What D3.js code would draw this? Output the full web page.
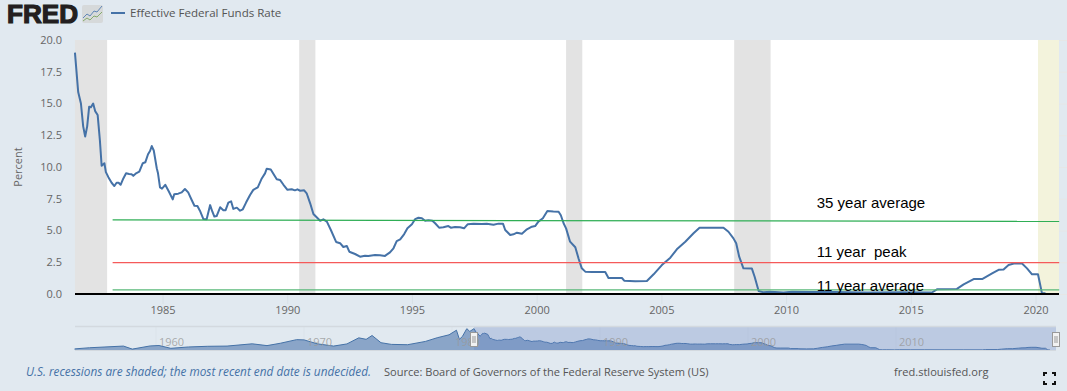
<!DOCTYPE html>
<html>
<head>
<meta charset="utf-8">
<script src="https://d3js.org/d3.v7.min.js"></script>
<style>
    html, body { margin: 0; padding: 0; background: #e1e9f0; overflow: hidden; }
    svg { display: block; }
    text { font-family: "Open Sans", sans-serif; }
    .axisLabel { font-size: 11px; fill: #666; }
    .note { font-family: "Liberation Sans", sans-serif; font-size: 15px; fill: #000; white-space: pre; }
</style>
</head>
<body>
<svg id="chart" width="1067" height="391"></svg>
<script>
    // effective federal funds rate
    var years = [1981.49,1981.62,1981.73,1981.82,1981.90,1981.98,1982.06,1982.13,1982.22,1982.30,1982.40,1982.49,1982.56,1982.67,1982.73,1982.83,1982.96,
        1983.07,1983.16,1983.24,1983.32,1983.43,1983.54,1983.66,1983.76,1983.83,1983.94,1984.07,1984.21,1984.31,1984.42,1984.50,1984.57,1984.65,1984.77,1984.82,1984.90,1984.98,
        1985.11,1985.26,1985.41,1985.47,1985.63,1985.77,1985.90,1986.03,1986.17,1986.28,1986.40,1986.50,1986.64,1986.77,1986.91,1987.00,1987.08,1987.17,1987.31,1987.44,1987.53,1987.64,1987.75,1987.84,1987.98,
        1988.11,1988.22,1988.35,1988.51,1988.64,1988.82,1988.98,1989.11,1989.18,1989.34,1989.58,1989.71,1989.85,1990.01,1990.18,1990.31,1990.41,1990.52,1990.68,1990.78,1990.92,
        1991.05,1991.18,1991.32,1991.45,1991.59,1991.75,1991.96,1992.12,1992.25,1992.39,1992.49,1992.72,1992.92,1993.12,1993.25,1993.52,1993.72,1993.92,
        1994.12,1994.26,1994.39,1994.53,1994.69,1994.82,1995.00,1995.13,1995.26,1995.40,1995.53,1995.66,1995.82,1995.93,1996.09,1996.26,1996.46,1996.56,1996.73,1996.93,
        1997.09,1997.24,1997.47,1997.80,1998.00,1998.27,1998.47,1998.65,1998.74,1998.94,1999.07,1999.21,1999.41,1999.61,1999.81,1999.94,
        2000.07,2000.25,2000.43,2000.67,2000.88,2000.97,2001.08,2001.18,2001.34,2001.55,2001.68,2001.81,2001.95,2002.22,2002.75,2002.88,2003.42,2003.51,2003.95,2004.42,2004.69,
        2005.02,2005.36,2005.62,2005.96,2006.29,2006.53,2006.96,2007.49,2007.69,2007.89,2008.00,2008.12,2008.29,2008.63,2008.74,2008.90,2009.10,2009.37,2009.90,2010.24,2010.97,
        2011.91,2013.25,2014.58,2015.85,2016.05,2016.85,2017.12,2017.52,2017.86,2018.26,2018.52,2018.72,2018.92,2019.13,2019.46,2019.66,2019.86,2020.10,2020.26,2020.40];
    var rates = [19.0,15.9,15.0,13.2,12.4,13.2,14.75,14.7,15.0,14.4,14.1,12.1,10.1,10.3,9.6,9.2,8.76,
        8.5,8.76,8.76,8.6,9.1,9.5,9.45,9.43,9.3,9.5,9.63,10.3,10.37,11.0,11.26,11.65,11.3,9.9,9.5,8.4,8.3,
        8.6,8.05,7.45,7.85,7.9,8.0,8.27,8.0,7.4,6.95,6.93,6.56,5.9,5.88,7.0,6.48,6.1,6.14,6.83,6.6,6.6,7.2,7.3,6.7,6.8,
        6.56,6.67,7.2,7.8,8.2,8.4,9.1,9.5,9.87,9.8,9.03,8.98,8.6,8.2,8.25,8.16,8.24,8.13,8.16,7.93,7.14,
        6.3,6.04,5.77,5.88,5.7,5.04,4.1,4.0,3.7,3.78,3.33,3.15,2.94,3.02,3.0,3.07,3.05,3.0,
        3.28,3.6,4.17,4.3,4.72,5.17,5.49,5.9,6.0,5.96,5.77,5.8,5.77,5.57,5.22,5.25,5.35,5.22,5.28,5.25,
        5.17,5.5,5.54,5.51,5.54,5.46,5.54,5.54,5.04,4.65,4.7,4.83,4.75,5.09,5.3,5.35,
        5.7,5.96,6.54,6.5,6.48,6.2,5.57,5.17,4.12,3.68,2.8,2.02,1.76,1.73,1.73,1.26,1.26,1.05,1.0,1.02,1.55,
        2.28,2.86,3.52,4.12,4.78,5.22,5.22,5.22,4.9,4.38,3.99,2.94,2.02,2.0,1.36,0.24,0.13,0.18,0.11,0.18,0.15,
        0.15,0.12,0.13,0.12,0.37,0.4,0.76,1.18,1.18,1.62,1.9,1.93,2.28,2.4,2.4,2.02,1.55,1.55,0.05,0.05];

    // earlier history, only visible in the navigator strip
    var earlyYears = [1954.5,1955.5,1957.8,1958.4,1959.6,1960.2,1961,1962.2,1963.5,1964.8,1966.5,1967.5,1968.4,1969.5,1970,1970.9,1972,1972.9,1973.7,1974.2,1974.6,1975.2,1975.9,1977,1978.2,1979,1979.8,1980.3,1980.5,1980.7,1981,1981.2];
    var earlyRates = [1.0,2.0,3.5,0.8,3.6,4.0,1.5,2.7,3.3,3.5,5.5,3.9,6.0,9.2,9.0,5.5,3.5,5.4,10.8,9.5,12.9,6.5,5.0,4.7,7.6,10.9,13.5,17.6,9.5,12.0,19.0,16.5];

    var yTicks = [0, 2.5, 5, 7.5, 10, 12.5, 15, 17.5, 20];
    var xTicks = [1985, 1990, 1995, 2000, 2005, 2010, 2015, 2020];
    var navTicks = [1960, 1970, 1980, 1990, 2000, 2010];

    var recessionStart = [1981.49, 1990.48, 2001.18, 2007.92];
    var recessionEnd = [1982.78, 1991.13, 2001.83, 2009.38];
    var undecidedStart = 2020.1, undecidedEnd = 2020.95;

    // hand drawn lines on top of the chart
    var noteLabels = ["35 year average", "11 year  peak", "11 year average"];
    var noteStart = [5.83, 2.47, 0.33];
    var noteEnd = [5.72, 2.47, 0.33];
    var noteTextY = [6.8, 2.95, 0.2];
    var noteColors = ["#2fae55", "#f55a5a", "#58b878"];
    var noteFrom = 1983.0, noteTo = 2020.95, noteTextX = 2011.23;

    var blue = "#4572a7";
    var plot = {left: 75, right: 1059, top: 40, bottom: 294};
    var nav = {left: 75, right: 1056, top: 327, bottom: 350, selected: 474};

    var x = d3.scaleLinear().domain([1985, 2020]).range([162.5, 1035.5]);
    var y = d3.scaleLinear().domain([0, 20]).range([plot.bottom, plot.top]);
    var navX = d3.scaleLinear().domain([1960, 2010]).range([156, 896]);
    var navY = d3.scaleLinear().domain([0, 20]).range([nav.bottom, nav.top + 0.5]);

    var svg = d3.select("#chart");

    // header
    svg.append("text").attr("x", 7).attr("y", 23)
        .attr("textLength", 71).attr("lengthAdjust", "spacingAndGlyphs")
        .style("font-family", "'Liberation Sans'").style("font-weight", 700).style("font-size", "25px")
        .attr("fill", "#231f20").attr("stroke", "#231f20").attr("stroke-width", 1.2).text("FRED");

    var logo = svg.append("g").attr("transform", "translate(82,5)");
    logo.append("rect").attr("width", 21).attr("height", 18).attr("rx", 2).attr("fill", "#d6d9da");
    logo.append("path").attr("d", "M1,13L5,9L8,11L12,6L15,7L20,1").attr("fill", "none").attr("stroke", "#5f86b5").attr("stroke-width", 1);
    logo.append("path").attr("d", "M1,16L5,13L8,15L12,11L15,12L20,7").attr("fill", "none").attr("stroke", "#86ab6c").attr("stroke-width", 1);

    svg.append("line").attr("x1", 111).attr("x2", 125).attr("y1", 13).attr("y2", 13).attr("stroke", blue).attr("stroke-width", 2);
    svg.append("text").attr("x", 130).attr("y", 17).attr("fill", "#555").style("font-size", "11.55px").text("Effective Federal Funds Rate");

    // plot background
    svg.append("rect").attr("x", plot.left).attr("y", plot.top)
        .attr("width", plot.right - plot.left).attr("height", plot.bottom - plot.top).attr("fill", "#fff");

    // y axis with grid
    var yAxis = d3.axisLeft(y).tickValues(yTicks).tickFormat(d3.format(".1f")).tickSize(plot.left - plot.right).tickPadding(13);
    var yG = svg.append("g").attr("transform", "translate(" + plot.left + ",0)").call(yAxis);
    yG.select(".domain").remove();
    yG.selectAll("line").attr("stroke", "#e6e6e6").attr("transform", "translate(" + (plot.right - plot.left) + ",0)");
    yG.selectAll("text").attr("class", "axisLabel").attr("dy", "0.3em");

    // recessions go over the grid
    svg.selectAll(".recession").data(recessionStart).enter().append("rect")
        .attr("class", "recession")
        .attr("x", function (d) { return x(d); })
        .attr("width", function (d, i) { return x(recessionEnd[i]) - x(d); })
        .attr("y", plot.top).attr("height", plot.bottom - plot.top).attr("fill", "#e3e3e3");
    svg.append("rect").attr("x", x(undecidedStart)).attr("width", plot.right - x(undecidedStart))
        .attr("y", plot.top).attr("height", plot.bottom - plot.top).attr("fill", "#f3f3dc");

    // x axis
    var xAxis = d3.axisBottom(x).tickValues(xTicks).tickFormat(d3.format("d")).tickSize(10).tickPadding(2.5);
    var xG = svg.append("g").attr("transform", "translate(0," + plot.bottom + ")").call(xAxis);
    xG.select(".domain").remove();
    xG.selectAll("line").attr("stroke", "#d8e0e6");
    xG.selectAll("text").attr("class", "axisLabel");

    svg.append("text").attr("class", "axisLabel")
        .attr("transform", "translate(22,167) rotate(-90)").attr("text-anchor", "middle").text("Percent");

    // series
    var points = years.map(function (d, i) { return [d, rates[i]]; });
    var line = d3.line().x(function (d) { return x(d[0]); }).y(function (d) { return y(d[1]); });
    svg.append("path").datum(points).attr("d", line).attr("fill", "none")
        .attr("stroke", blue).attr("stroke-width", 2).attr("stroke-linejoin", "round");

    // notes
    noteLabels.forEach(function (label, i) {
        svg.append("line")
            .attr("x1", x(noteFrom)).attr("x2", x(noteTo))
            .attr("y1", y(noteStart[i])).attr("y2", y(noteEnd[i]))
            .attr("stroke", noteColors[i]).attr("stroke-width", 1.2);
    });
    svg.append("line").attr("x1", plot.left).attr("x2", plot.right)
        .attr("y1", plot.bottom).attr("y2", plot.bottom).attr("stroke", "#000").attr("stroke-width", 2);
    noteLabels.forEach(function (label, i) {
        svg.append("text").attr("class", "note").attr("x", x(noteTextX)).attr("y", y(noteTextY[i]))
            .attr("xml:space", "preserve").text(label);
    });

    // navigator
    var navPoints = earlyYears.map(function (d, i) { return [d, earlyRates[i]]; }).concat(points);
    svg.selectAll(".navTick").data(navTicks).enter().append("line")
        .attr("class", "navTick")
        .attr("x1", function (d) { return navX(d); }).attr("x2", function (d) { return navX(d); })
        .attr("y1", nav.top).attr("y2", nav.bottom).attr("stroke", "#dbe3ea");
    var area = d3.area().x(function (d) { return navX(d[0]); }).y0(nav.bottom).y1(function (d) { return navY(d[1]); });
    var navLine = d3.line().x(function (d) { return navX(d[0]); }).y(function (d) { return navY(d[1]); });
    svg.append("path").datum(navPoints).attr("d", area).attr("fill", "#8aa5c8");
    svg.append("path").datum(navPoints).attr("d", navLine).attr("fill", "none").attr("stroke", blue).attr("stroke-width", 1);
    svg.append("rect").attr("x", nav.selected).attr("y", nav.top)
        .attr("width", nav.right - nav.selected).attr("height", nav.bottom - nav.top)
        .attr("fill", "#6685c2").attr("fill-opacity", 0.3);
    svg.append("line").attr("x1", nav.left).attr("x2", nav.right).attr("y1", nav.top - 0.5).attr("y2", nav.top - 0.5)
        .attr("stroke", "#d3d9df").attr("stroke-width", 1.5);
    svg.append("line").attr("x1", nav.left).attr("x2", nav.right).attr("y1", nav.bottom + 0.5).attr("y2", nav.bottom + 0.5)
        .attr("stroke", "#d3d9df");
    svg.selectAll(".navLabel").data(navTicks).enter().append("text")
        .attr("class", "navLabel")
        .attr("x", function (d) { return navX(d) + 3; }).attr("y", 346)
        .attr("fill", "#999").attr("fill-opacity", 0.8).style("font-size", "11px")
        .text(function (d) { return d; });

    // navigator handles
    [nav.selected, nav.right].forEach(function (hx) {
        var h = svg.append("g").attr("transform", "translate(" + hx + ",332)");
        h.append("rect").attr("x", -3.5).attr("y", 0.5).attr("width", 7).attr("height", 14)
            .attr("fill", "#f2f2f2").attr("stroke", "#999");
        h.append("path").attr("d", "M-1,4V11M1,4V11").attr("stroke", "#999").attr("fill", "none");
    });

    // footer
    svg.append("text").attr("x", 26).attr("y", 376).attr("fill", blue)
        .style("font-size", "11.8px").style("font-style", "italic")
        .text("U.S. recessions are shaded; the most recent end date is undecided.");
    svg.append("text").attr("x", 384).attr("y", 376).attr("fill", "#555").style("font-size", "11.07px")
        .text("Source: Board of Governors of the Federal Reserve System (US)");
    svg.append("text").attr("x", 894).attr("y", 376).attr("fill", "#555").style("font-size", "11.07px")
        .text("fred.stlouisfed.org");

    // fullscreen icon
    svg.append("path").attr("transform", "translate(1044,373)")
        .attr("d", "M0,3V0H3M8,0H11V3M11,8V11H8M3,11H0V8")
        .attr("fill", "none").attr("stroke", "#111").attr("stroke-width", 2);
</script>
</body>
</html>
